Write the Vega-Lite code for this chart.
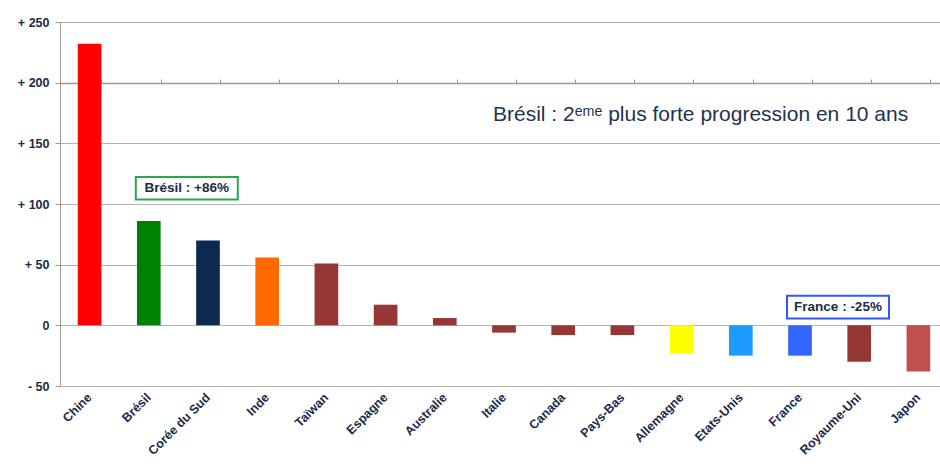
{
  "$schema": "https://vega.github.io/schema/vega-lite/v6.json",
  "width": 888,
  "height": 364,
  "autosize": {"type": "none"},
  "padding": {"left": 60, "top": 22, "right": 0, "bottom": 78},
  "background": "white",
  "config": {"view": {"stroke": null}, "font": "Liberation Sans"},
  "datasets": {
    "pays": [
      {"pays": "Chine", "valeur": 232},
      {"pays": "Brésil", "valeur": 86},
      {"pays": "Corée du Sud", "valeur": 70},
      {"pays": "Inde", "valeur": 56},
      {"pays": "Taïwan", "valeur": 51},
      {"pays": "Espagne", "valeur": 17},
      {"pays": "Australie", "valeur": 6},
      {"pays": "Italie", "valeur": -6},
      {"pays": "Canada", "valeur": -8},
      {"pays": "Pays-Bas", "valeur": -8},
      {"pays": "Allemagne", "valeur": -23},
      {"pays": "Etats-Unis", "valeur": -25},
      {"pays": "France", "valeur": -25},
      {"pays": "Royaume-Uni", "valeur": -30},
      {"pays": "Japon", "valeur": -38}
    ],
    "titre": [
      {"pays": "Allemagne", "valeur": 173, "texte": "Brésil : 2ᵉᵐᵉ plus forte progression en 10 ans"}
    ],
    "boites": [
      {"pays": "Brésil", "valeur": 113, "texte": "Brésil : +86%", "cadre": "vert"},
      {"pays": "France", "valeur": 15, "texte": "France : -25%", "cadre": "bleu"}
    ]
  },
  "resolve": {"axis": {"x": "independent"}},
  "layer": [
    {
      "data": {"name": "pays"},
      "mark": {"type": "bar"},
      "encoding": {
        "x": {
          "field": "pays", "type": "nominal", "sort": null,
          "scale": {"paddingInner": 0.6, "paddingOuter": 0.3,
            "domain": ["Chine","Brésil","Corée du Sud","Inde","Taïwan","Espagne","Australie","Italie","Canada","Pays-Bas","Allemagne","Etats-Unis","France","Royaume-Uni","Japon"]},
          "axis": {
            "title": null, "domain": false, "ticks": false, "labelAngle": -45,
            "labelAlign": "right", "labelBaseline": "middle", "labelPadding": 9,
            "labelFont": "Liberation Sans", "labelFontWeight": "bold", "labelFontSize": 12.5,
            "labelColor": "#1a2b4a"
          }
        },
        "y": {
          "field": "valeur", "type": "quantitative",
          "scale": {"domain": [-50, 250], "nice": false},
          "axis": {
            "title": null, "values": [-50, 0, 50, 100, 150, 200, 250],
            "grid": true, "gridColor": "#b4b4b4", "gridWidth": 1,
            "domain": true, "domainColor": "#9a9a9a", "ticks": true, "tickColor": "#9a9a9a", "tickSize": 5,
            "labelFont": "Liberation Sans", "labelFontWeight": "bold", "labelFontSize": 12.5,
            "labelColor": "#1a2b4a", "labelPadding": 6,
            "labelExpr": "datum.value > 0 ? '+ ' + datum.value : (datum.value < 0 ? '- ' + abs(datum.value) : '0')"
          }
        },
        "color": {
          "field": "pays", "type": "nominal", "legend": null,
          "scale": {
            "domain": ["Chine","Brésil","Corée du Sud","Inde","Taïwan","Espagne","Australie","Italie","Canada","Pays-Bas","Allemagne","Etats-Unis","France","Royaume-Uni","Japon"],
            "range": ["#ff0000","#008000","#0c2a50","#ff6a00","#953735","#953735","#953735","#953735","#953735","#953735","#ffff00","#1e9bff","#3366ff","#953735","#c0504d"]
          }
        }
      }
    },
    {
      "data": {"name": "titre"},
      "mark": {"type": "text", "dx": 19, "align": "center", "baseline": "middle", "fontSize": 21, "font": "Liberation Sans", "color": "#1f3350"},
      "encoding": {
        "x": {"field": "pays", "type": "nominal", "sort": null, "axis": null},
        "y": {"field": "valeur", "type": "quantitative"},
        "text": {"field": "texte"}
      }
    },
    {
      "data": {"name": "boites"},
      "mark": {"type": "point", "xOffset": 38, "filled": true, "fill": "white", "strokeWidth": 2, "opacity": 1,
        "shape": "M-1,-0.222L1,-0.222L1,0.222L-1,0.222Z", "size": 10400},
      "encoding": {
        "x": {"field": "pays", "type": "nominal", "sort": null, "axis": null},
        "y": {"field": "valeur", "type": "quantitative"},
        "stroke": {"field": "cadre", "type": "nominal", "legend": null,
          "scale": {"domain": ["vert", "bleu"], "range": ["#2aa84a", "#3355ff"]}}
      }
    },
    {
      "data": {"name": "boites"},
      "mark": {"type": "text", "dx": 38, "align": "center", "baseline": "middle", "fontSize": 13.5, "fontWeight": "bold", "font": "Liberation Sans", "color": "#1a2b4a"},
      "encoding": {
        "x": {"field": "pays", "type": "nominal", "sort": null,
          "axis": {"title": null, "labels": false, "domain": true, "domainColor": "#9a9a9a", "domainWidth": 1.5, "ticks": true, "tickColor": "#9a9a9a", "tickSize": 4, "tickBand": "extent", "offset": -61, "grid": false}},
        "y": {"field": "valeur", "type": "quantitative"},
        "text": {"field": "texte"}
      }
    }
  ]
}
